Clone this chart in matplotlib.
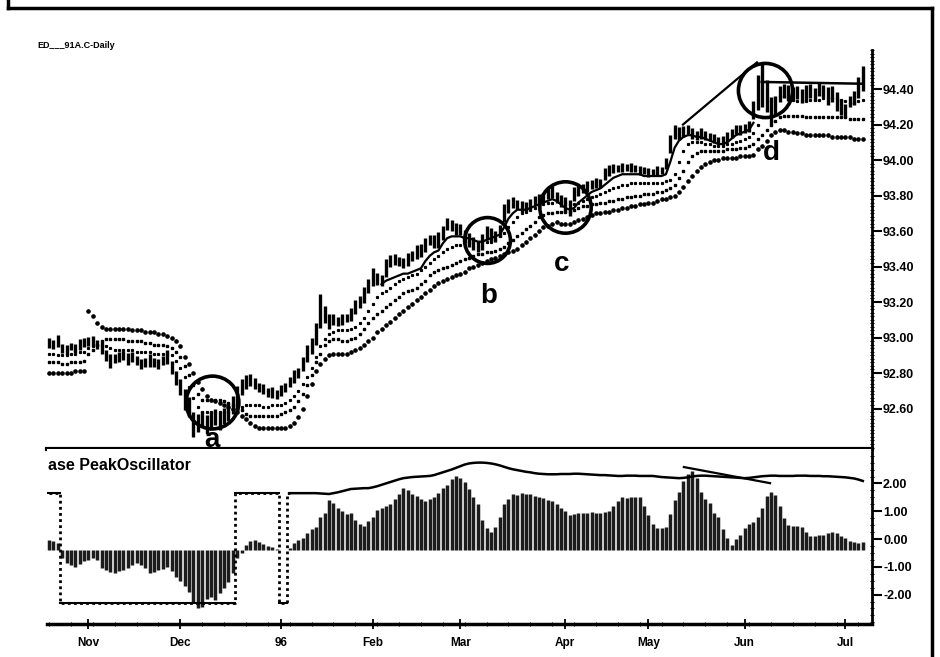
import numpy as np
import matplotlib
matplotlib.use("Agg")
import matplotlib.pyplot as plt
from matplotlib.ticker import FixedLocator, MultipleLocator
from matplotlib.lines import Line2D

plt.rcParams['font.family'] = ['Liberation Sans', 'DejaVu Sans']
plt.rcParams['font.weight'] = 'bold'

title = "ED___91A.C-Daily"
osc_title = "ase PeakOscillator"

# daily bars (centre of each bar and its high-low range), Oct 95 .. Jul 96
mids = [
    92.97, 92.96, 92.98, 92.94, 92.93, 92.95, 92.94, 92.96, 92.97,
    92.98, 92.98, 92.96, 92.94, 92.90, 92.87, 92.88, 92.89, 92.90, 92.88, 92.89,
    92.87, 92.85, 92.86, 92.87, 92.86, 92.85, 92.87, 92.89, 92.83, 92.77, 92.72,
    92.65, 92.61, 92.51, 92.52, 92.54, 92.51, 92.53, 92.55, 92.53, 92.56, 92.58,
    92.62, 92.67, 92.72, 92.75, 92.76, 92.74, 92.72, 92.71, 92.69, 92.69,
    92.68, 92.70, 92.72, 92.75, 92.78, 92.80, 92.85, 92.91, 92.95, 93.02, 93.15,
    93.13, 93.09, 93.10, 93.09, 93.10, 93.11, 93.13, 93.17, 93.20, 93.24, 93.29, 93.34,
    93.33, 93.32, 93.39, 93.43, 93.44, 93.43, 93.42, 93.44, 93.46, 93.48, 93.49,
    93.52, 93.55, 93.54, 93.55, 93.59, 93.64, 93.63, 93.61, 93.61, 93.57,
    93.55, 93.53, 93.51, 93.54, 93.59, 93.58, 93.57, 93.60, 93.70, 93.74, 93.76,
    93.75, 93.74, 93.74, 93.75, 93.77, 93.78, 93.79, 93.81, 93.82, 93.79,
    93.77, 93.75, 93.73, 93.81, 93.83, 93.84, 93.85, 93.86, 93.87, 93.87, 93.92,
    93.94, 93.95, 93.95, 93.96, 93.96, 93.96, 93.95, 93.94, 93.94, 93.93, 93.93,
    93.94, 93.94, 93.98, 94.09, 94.16, 94.15, 94.16, 94.17, 94.15, 94.14, 94.15,
    94.14, 94.13, 94.12, 94.11, 94.11, 94.13, 94.15, 94.17, 94.17, 94.18, 94.19, 94.28,
    94.38, 94.42, 94.36, 94.28, 94.31, 94.37, 94.39, 94.38, 94.37, 94.38,
    94.36, 94.38, 94.39, 94.37, 94.40, 94.39, 94.36, 94.37, 94.33, 94.30,
    94.28, 94.33, 94.35, 94.41, 94.46,
]
ranges = [
    0.06, 0.05, 0.07, 0.05, 0.06, 0.04, 0.05, 0.06, 0.05,
    0.05, 0.06, 0.05, 0.07, 0.06, 0.08, 0.05, 0.06, 0.05, 0.07, 0.06,
    0.05, 0.06, 0.05, 0.07, 0.05, 0.06, 0.05, 0.08, 0.07, 0.08, 0.09,
    0.12, 0.11, 0.14, 0.10, 0.09, 0.11, 0.10, 0.09, 0.10, 0.09, 0.10,
    0.10, 0.11, 0.09, 0.08, 0.07, 0.06, 0.05, 0.06, 0.05, 0.06,
    0.05, 0.06, 0.05, 0.06, 0.07, 0.06, 0.08, 0.10, 0.09, 0.12, 0.19,
    0.10, 0.08, 0.06, 0.05, 0.06, 0.05, 0.07, 0.08, 0.07, 0.09, 0.08, 0.10,
    0.07, 0.06, 0.10, 0.07, 0.06, 0.05, 0.06, 0.07, 0.06, 0.08, 0.07,
    0.08, 0.06, 0.07, 0.09, 0.08, 0.07, 0.06, 0.07, 0.06, 0.07,
    0.08, 0.07, 0.06, 0.09, 0.08, 0.07, 0.06, 0.07, 0.10, 0.08, 0.06,
    0.05, 0.06, 0.05, 0.06, 0.05, 0.06, 0.05, 0.06, 0.07, 0.06,
    0.07, 0.08, 0.09, 0.08, 0.06, 0.05, 0.06, 0.05, 0.06, 0.05, 0.07,
    0.06, 0.05, 0.04, 0.05, 0.04, 0.05, 0.04, 0.05, 0.04, 0.05, 0.04,
    0.05, 0.04, 0.06, 0.10, 0.08, 0.07, 0.06, 0.05, 0.06, 0.05, 0.06,
    0.05, 0.04, 0.05, 0.04, 0.05, 0.06, 0.05, 0.05, 0.06, 0.05, 0.06, 0.10,
    0.20, 0.24, 0.18, 0.15, 0.10, 0.09, 0.08, 0.09, 0.08, 0.07,
    0.08, 0.09, 0.08, 0.07, 0.08, 0.07, 0.10, 0.09, 0.11, 0.09,
    0.07, 0.06, 0.08, 0.12, 0.14,
]

# the three dotted averages
fast_avg = [
    92.91, 92.91, 92.90, 92.90, 92.90, 92.91, 92.91, 92.92, 92.92,
    92.94, 92.95, 92.96, 92.96, 92.95, 92.94, 92.93, 92.93, 92.93, 92.93, 92.93,
    92.92, 92.92, 92.92, 92.92, 92.91, 92.91, 92.91, 92.91, 92.90, 92.87, 92.83,
    92.78, 92.72, 92.66, 92.61, 92.58, 92.58, 92.58, 92.58, 92.58, 92.58, 92.58,
    92.59, 92.60, 92.61, 92.62, 92.62, 92.62, 92.62, 92.61, 92.61, 92.62,
    92.62, 92.62, 92.63, 92.65, 92.67, 92.70, 92.74, 92.78, 92.83, 92.89, 92.95,
    92.99, 93.02, 93.03, 93.04, 93.04, 93.04, 93.05, 93.06, 93.08, 93.11, 93.15, 93.19,
    93.23, 93.25, 93.26, 93.28, 93.30, 93.32, 93.33, 93.34, 93.35, 93.36, 93.38,
    93.40, 93.42, 93.44, 93.46, 93.48, 93.50, 93.51, 93.52, 93.52, 93.52,
    93.53, 93.54, 93.54, 93.54, 93.54, 93.54, 93.55, 93.57, 93.59, 93.62, 93.65,
    93.68, 93.70, 93.71, 93.72, 93.73, 93.74, 93.75, 93.76, 93.76, 93.77,
    93.77, 93.76, 93.75, 93.75, 93.76, 93.77, 93.78, 93.79, 93.80, 93.81, 93.82,
    93.83, 93.84, 93.85, 93.86, 93.86, 93.87, 93.87, 93.87, 93.87, 93.87, 93.87,
    93.87, 93.87, 93.88, 93.89, 93.92, 93.99, 94.05, 94.09, 94.10, 94.10, 94.10,
    94.09, 94.09, 94.08, 94.08, 94.08, 94.09, 94.09, 94.10, 94.11, 94.12, 94.13, 94.15,
    94.20, 94.24, 94.29, 94.33, 94.35, 94.36, 94.36, 94.35, 94.34, 94.33,
    94.33, 94.33, 94.34, 94.34, 94.34, 94.35, 94.35, 94.35, 94.35, 94.34,
    94.33, 94.32, 94.32, 94.33, 94.34,
]
mid_avg = [
    92.86, 92.86, 92.86, 92.85, 92.85, 92.86, 92.86, 92.86, 92.87,
    92.91, 92.93, 92.96, 92.98, 92.99, 92.99, 92.99, 92.99, 92.99, 92.98, 92.98,
    92.98, 92.98, 92.97, 92.97, 92.96, 92.96, 92.96, 92.95, 92.94, 92.92, 92.89,
    92.84, 92.79, 92.73, 92.68, 92.65, 92.65, 92.65, 92.65, 92.65, 92.64, 92.63,
    92.62, 92.61, 92.59, 92.57, 92.56, 92.56, 92.56, 92.56, 92.56, 92.56,
    92.56, 92.57, 92.58, 92.59, 92.61, 92.64, 92.68, 92.73, 92.79, 92.86, 92.91,
    92.96, 92.98, 92.99, 92.99, 92.98, 92.98, 92.99, 93.00, 93.02, 93.05, 93.08, 93.11,
    93.13, 93.15, 93.17, 93.19, 93.21, 93.23, 93.25, 93.26, 93.27, 93.28, 93.30,
    93.32, 93.35, 93.37, 93.38, 93.39, 93.40, 93.41, 93.42, 93.43, 93.44,
    93.45, 93.46, 93.47, 93.47, 93.48, 93.48, 93.49, 93.50, 93.51, 93.53, 93.55,
    93.57, 93.59, 93.61, 93.63, 93.65, 93.68, 93.69, 93.70, 93.70, 93.71,
    93.71, 93.71, 93.71, 93.72, 93.73, 93.74, 93.74, 93.75, 93.75, 93.76, 93.76,
    93.77, 93.77, 93.78, 93.78, 93.79, 93.79, 93.80, 93.80, 93.81, 93.81, 93.81,
    93.82, 93.82, 93.83, 93.84, 93.86, 93.90, 93.94, 93.99, 94.02, 94.04, 94.05,
    94.05, 94.05, 94.05, 94.05, 94.05, 94.06, 94.06, 94.06, 94.07, 94.07, 94.08, 94.09,
    94.12, 94.14, 94.17, 94.20, 94.22, 94.24, 94.25, 94.25, 94.25, 94.25,
    94.25, 94.24, 94.24, 94.24, 94.24, 94.24, 94.24, 94.24, 94.24, 94.24,
    94.24, 94.23, 94.23, 94.23, 94.23,
]
slow_avg = [
    92.80, 92.80, 92.80, 92.80, 92.80, 92.80, 92.81, 92.81, 92.81,
    93.15, 93.12, 93.08, 93.06, 93.05, 93.05, 93.05, 93.05, 93.05, 93.05, 93.04,
    93.04, 93.04, 93.03, 93.03, 93.03, 93.02, 93.02, 93.01, 93.00, 92.98, 92.95,
    92.89, 92.85, 92.80, 92.75, 92.71, 92.67, 92.65, 92.64, 92.63, 92.62, 92.61,
    92.60, 92.58, 92.56, 92.54, 92.52, 92.50, 92.49, 92.49, 92.49, 92.49,
    92.49, 92.49, 92.49, 92.50, 92.52, 92.55, 92.60, 92.67, 92.74, 92.81, 92.85,
    92.88, 92.90, 92.91, 92.91, 92.91, 92.91, 92.92, 92.93, 92.94, 92.96, 92.98, 93.00,
    93.03, 93.05, 93.07, 93.09, 93.11, 93.13, 93.15, 93.17, 93.19, 93.21, 93.23,
    93.25, 93.27, 93.29, 93.31, 93.32, 93.33, 93.34, 93.35, 93.36, 93.37,
    93.39, 93.40, 93.41, 93.42, 93.43, 93.44, 93.45, 93.46, 93.47, 93.48, 93.49,
    93.50, 93.52, 93.54, 93.56, 93.58, 93.60, 93.62, 93.63, 93.64, 93.65,
    93.64, 93.64, 93.64, 93.65, 93.66, 93.67, 93.68, 93.69, 93.70, 93.70, 93.71,
    93.71, 93.72, 93.72, 93.73, 93.73, 93.74, 93.74, 93.75, 93.75, 93.76, 93.76,
    93.77, 93.78, 93.78, 93.79, 93.80, 93.82, 93.85, 93.88, 93.91, 93.94, 93.96,
    93.98, 93.99, 94.00, 94.00, 94.01, 94.01, 94.01, 94.01, 94.02, 94.02, 94.02, 94.03,
    94.06, 94.08, 94.11, 94.14, 94.16, 94.17, 94.17, 94.16, 94.16, 94.15,
    94.15, 94.14, 94.14, 94.14, 94.14, 94.14, 94.14, 94.13, 94.13, 94.13,
    94.13, 94.13, 94.12, 94.12, 94.12,
]

# solid line under the bars, Feb .. May
trail_start = 76
trail = [
    93.30, 93.32, 93.33, 93.34, 93.35, 93.36, 93.36, 93.37, 93.38, 93.39,
    93.43, 93.46, 93.48, 93.49, 93.53, 93.56, 93.57, 93.57, 93.57, 93.56,
    93.56, 93.55, 93.54, 93.54, 93.55, 93.56, 93.57, 93.58, 93.62, 93.67,
    93.70, 93.72, 93.72, 93.72, 93.73, 93.74, 93.75, 93.76, 93.77, 93.78, 93.77,
    93.75, 93.73, 93.72, 93.73, 93.76, 93.78, 93.80, 93.82, 93.83, 93.84, 93.86,
    93.88, 93.90, 93.91, 93.92, 93.92, 93.92, 93.92, 93.92, 93.91, 93.91, 93.91,
    93.91, 93.91, 93.92, 93.99, 94.07, 94.11, 94.13, 94.14, 94.14, 94.13, 94.13,
    94.12, 94.11, 94.10, 94.09, 94.09, 94.10, 94.12, 94.14, 94.15, 94.16, 94.17, 94.21,
]

# oscillator histogram
osc = [
    -0.05, -0.08, -0.15, -0.70, -0.86, -0.95, -1.01, -0.90, -0.80, -0.75,
    -0.70, -0.76, -1.05, -1.12, -1.20, -1.22, -1.15, -1.10, -1.05, -0.95,
    -0.88, -0.95, -1.05, -1.22, -1.18, -1.12, -1.08, -1.02, -1.15, -1.35,
    -1.50, -1.70, -1.92, -2.25, -2.50, -2.45, -2.15, -2.10, -2.20, -1.95,
    -1.75, -1.55, -1.22, -0.70, -0.50, -0.20, -0.08, -0.05, -0.12, -0.18,
    -0.25, -0.30, -0.35, -0.40, -0.38, -0.32, -0.15, -0.05, 0.05, 0.20,
    0.35, 0.45, 0.80, 0.95, 1.40, 1.30, 1.10, 1.00, 0.90, 0.95,
    0.70, 0.55, 0.47, 0.65, 0.80, 1.05, 1.12, 1.20, 1.26, 1.45,
    1.62, 1.83, 1.75, 1.62, 1.55, 1.45, 1.37, 1.45, 1.51, 1.65,
    1.85, 1.95, 2.16, 2.27, 2.20, 2.05, 1.80, 1.50, 1.26, 0.70,
    0.40, 0.25, 0.45, 0.80, 1.26, 1.45, 1.62, 1.60, 1.65, 1.62,
    1.62, 1.55, 1.51, 1.48, 1.40, 1.37, 1.25, 1.12, 1.00, 0.86,
    0.90, 0.94, 0.92, 0.94, 0.96, 0.94, 0.92, 0.96, 1.01, 1.20,
    1.37, 1.50, 1.48, 1.50, 1.51, 1.52, 1.20, 0.86, 0.55, 0.40,
    0.38, 0.45, 0.90, 1.40, 1.70, 2.10, 2.35, 2.45, 2.20, 1.70,
    1.45, 1.30, 0.95, 0.80, 0.35, 0.05, -0.20, 0.00, 0.15, 0.40,
    0.55, 0.62, 0.80, 1.10, 1.55, 1.70, 1.60, 1.20, 0.75, 0.50,
    0.47, 0.48, 0.42, 0.25, 0.10, 0.12, 0.13, 0.15, 0.20, 0.24,
    0.22, 0.12, 0.04, -0.08, -0.12, -0.15, -0.12,
]
osc_base = -0.40

# square-wave phase line (Oct .. Jan) and the upper band after it
osc_mode = [1.65] * 3 + [-2.30] * 40 + [1.65] * 10 + [-2.30] * 2
band_start = 55
osc_band = [
    1.65, 1.65, 1.65, 1.65, 1.65, 1.65, 1.65, 1.64, 1.63,
    1.62, 1.65, 1.68, 1.72, 1.76, 1.80, 1.81, 1.82, 1.83,
    1.83, 1.86, 1.90, 1.95, 2.00, 2.05, 2.10, 2.15, 2.19,
    2.21, 2.23, 2.24, 2.25, 2.26, 2.27, 2.30, 2.35, 2.40,
    2.45, 2.50, 2.56, 2.62, 2.68, 2.72, 2.74, 2.75, 2.75,
    2.74, 2.72, 2.69, 2.65, 2.60, 2.55, 2.51, 2.48, 2.45,
    2.42, 2.40, 2.37, 2.35, 2.34, 2.33, 2.33, 2.33, 2.34,
    2.34, 2.34, 2.35, 2.35, 2.34, 2.33, 2.32, 2.31, 2.30,
    2.30, 2.29, 2.28, 2.27, 2.27, 2.28, 2.28, 2.28, 2.27,
    2.27, 2.27, 2.27, 2.25, 2.23, 2.22, 2.21, 2.20, 2.19,
    2.20, 2.22, 2.25, 2.27, 2.28, 2.28, 2.27, 2.26, 2.25,
    2.24, 2.23, 2.22, 2.21, 2.20, 2.19, 2.20, 2.22, 2.24,
    2.26, 2.27, 2.28, 2.28, 2.27, 2.27, 2.27, 2.27, 2.28,
    2.28, 2.28, 2.27, 2.27, 2.27, 2.26, 2.26, 2.25, 2.24,
    2.23, 2.22, 2.20, 2.18, 2.14, 2.09,
]

# hand-drawn lines
price_trend_x, price_trend_y = [144.9, 161.8], [94.20, 94.55]
price_top_x, price_top_y = [162.9, 185.8], [94.44, 94.43]
osc_trend_x, osc_trend_y = [145.1, 164.8], [2.59, 2.01]

# circled spots: (label, circle x, circle y, circle size, letter x, letter y)
marks = [
    ('a', 37.2, 92.636, 38, 37.2, 92.42),
    ('b', 100.1, 93.549, 33, 100.5, 93.234),
    ('c', 117.9, 93.735, 37, 117.2, 93.414),
    ('d', 163.6, 94.394, 39, 165.0, 94.04),
]

month_pos = [9, 30, 53, 74, 94, 118, 137, 159, 182]
month_names = ['Nov', 'Dec', '96', 'Feb', 'Mar', 'Apr', 'May', 'Jun', 'Jul']
price_ticks = [92.6, 92.8, 93.0, 93.2, 93.4, 93.6, 93.8, 94.0, 94.2, 94.4]
osc_ticks = [-2, -1, 0, 1, 2]

W, H = 940, 657
fig = plt.figure(figsize=(W / 100, H / 100), dpi=100)
ax = fig.add_axes([47 / W, 1 - 449 / H, 825 / W, 399 / H])
ax2 = fig.add_axes([47 / W, 1 - 624 / H, 825 / W, 175 / H])

x = np.arange(len(mids))
mids_a = np.array(mids)
half = np.array(ranges) / 2
ax.vlines(x, mids_a - half, mids_a + half, color='black', lw=2.4)

ax.plot(x, fast_avg, ls='none', marker='s', ms=1.3, color='black')
ax.plot(x, mid_avg, ls='none', marker='s', ms=1.6, color='black')
ax.plot(x, slow_avg, ls='none', marker='o', ms=2.3, color='black')
ax.plot(np.arange(trail_start, trail_start + len(trail)), trail, color='black', lw=1.6)

ax.plot(price_trend_x, price_trend_y, color='black', lw=1.6)
ax.plot(price_top_x, price_top_y, color='black', lw=1.8)

for lab, cx, cy, size, lx, ly in marks:
    ax.plot(cx, cy, marker='o', ms=size, mfc='none', mec='black', mew=2.6)
    ax.text(lx, ly, lab, fontsize=20, fontweight='bold', ha='center', va='center')

ax.set_xlim(-0.46, 188.1)
ax.set_ylim(92.372, 94.620)
for s in ['left', 'top']:
    ax.spines[s].set_visible(False)
ax.spines['right'].set_linewidth(2)
ax.spines['bottom'].set_linewidth(3)
ax.set_xticks([])
ax.yaxis.tick_right()
ax.yaxis.set_major_locator(FixedLocator(price_ticks))
ax.set_yticklabels(['%.2f' % v for v in price_ticks])
ax.yaxis.set_minor_locator(MultipleLocator(0.02))
ax.tick_params(axis='y', which='major', direction='out', length=7, width=1.5,
               labelsize=9, pad=1)
ax.tick_params(axis='y', which='minor', direction='inout', length=3, width=0.8)

# oscillator panel
ax2.vlines(x, osc_base, osc, color='#1c1c1c', lw=2.5)
mode_vals = osc_mode + [osc_band[0]]
mode_x = np.arange(len(mode_vals))
ax2.step(mode_x, mode_vals, where='mid', color='black', ls=(0, (1, 1.2)), lw=2)
start = 0
for k in range(1, len(osc_mode) + 1):
    if k == len(osc_mode) or osc_mode[k] != osc_mode[start]:
        ax2.plot([start - 0.5, k - 0.5], [osc_mode[start]] * 2, color='black', lw=1.5)
        start = k
ax2.plot(np.arange(band_start, band_start + len(osc_band)), osc_band, color='black', lw=1.8)
ax2.plot(osc_trend_x, osc_trend_y, color='black', lw=1.6)

ax2.set_xlim(-0.46, 188.1)
ax2.set_ylim(-3.06, 3.24)
for s in ['left', 'top']:
    ax2.spines[s].set_visible(False)
ax2.spines['right'].set_linewidth(2)
ax2.spines['bottom'].set_linewidth(2.5)
ax2.yaxis.tick_right()
ax2.yaxis.set_major_locator(FixedLocator(osc_ticks))
ax2.set_yticklabels(['%.2f' % v for v in osc_ticks])
ax2.yaxis.set_minor_locator(MultipleLocator(0.25))
ax2.tick_params(axis='y', which='major', direction='out', length=7, width=1.5,
                labelsize=9, pad=1)
ax2.tick_params(axis='y', which='minor', direction='inout', length=3, width=0.8)
ax2.xaxis.set_major_locator(FixedLocator(month_pos))
ax2.set_xticklabels(month_names)
ax2.xaxis.set_minor_locator(MultipleLocator(5))
ax2.tick_params(axis='x', which='major', direction='inout', length=7, width=1.3,
                labelsize=8.5, pad=6)
ax2.tick_params(axis='x', which='minor', direction='inout', length=3, width=0.8)

fig.text(37 / W, 1 - 45 / H, title, fontsize=6.5, fontweight='bold', va='center')
fig.text(48 / W, 1 - 466 / H, osc_title, fontsize=11.5, fontweight='bold', va='center')

# outer frame
for xs, ys in [([8, 8], [0, 8]), ([8, 932], [8, 8]), ([932, 932], [8, H])]:
    fig.add_artist(Line2D([v / W for v in xs], [1 - v / H for v in ys],
                          transform=fig.transFigure, color='black', lw=2.5))

fig.savefig('out.png', dpi=100)
